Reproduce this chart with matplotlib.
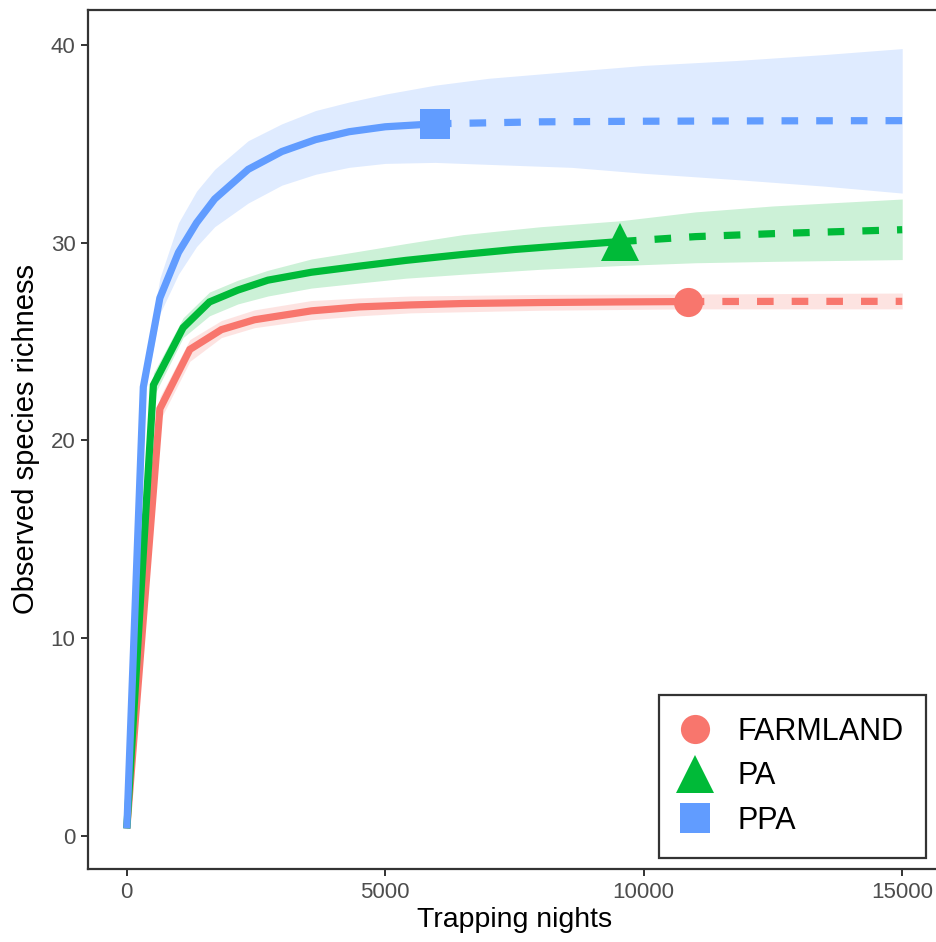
import numpy as np
import matplotlib
matplotlib.use("Agg")
from matplotlib import pyplot as plt
from matplotlib.lines import Line2D

plt.rcParams['font.family'] = ['Liberation Sans', 'DejaVu Sans']

groups = ['FARMLAND', 'PA', 'PPA']
colors = ['#F8766D', '#00BA38', '#619CFF']
shapes = ['o', '^', 's']

# observed (interpolated) part of each curve
farm_obs_x = [1, 640, 1220, 1830, 2470, 3570, 4500, 5500, 6500, 8000, 9500, 10850]
farm_obs_y = [0.4, 21.6, 24.6, 25.6, 26.1, 26.55, 26.75, 26.85, 26.92, 26.97, 27.0, 27.02]
pa_obs_x = [1, 515, 1090, 1600, 2150, 2730, 3570, 4470, 5400, 6500, 7500, 8500, 9540]
pa_obs_y = [0.4, 22.8, 25.7, 27.0, 27.6, 28.1, 28.5, 28.8, 29.1, 29.4, 29.65, 29.85, 30.05]
ppa_obs_x = [1, 320, 640, 1000, 1350, 1700, 2350, 3000, 3650, 4300, 5000, 5960]
ppa_obs_y = [0.4, 22.7, 27.2, 29.5, 31.0, 32.2, 33.7, 34.6, 35.2, 35.6, 35.85, 36.0]

# extrapolated part
farm_ext_x = [10850, 13000, 15000]
farm_ext_y = [27.02, 27.03, 27.03]
pa_ext_x = [9540, 11000, 12500, 15000]
pa_ext_y = [30.05, 30.3, 30.45, 30.65]
ppa_ext_x = [5960, 8000, 10000, 12500, 15000]
ppa_ext_y = [36.0, 36.1, 36.13, 36.15, 36.16]

# confidence bands
farm_ci_x = [1, 640, 1220, 1830, 2470, 3570, 4500, 5500, 8000, 10850, 15000]
farm_lo = [0.35, 21.0, 24.0, 25.2, 25.7, 26.1, 26.3, 26.45, 26.58, 26.65, 26.65]
farm_hi = [0.4, 22.2, 25.1, 26.06, 26.6, 27.07, 27.2, 27.3, 27.38, 27.4, 27.45]
pa_ci_x = [1, 515, 1090, 1600, 2150, 2730, 3570, 4470, 5400, 6500, 8000, 9540, 11000, 12500, 15000]
pa_lo = [0.35, 22.2, 25.2, 26.3, 26.9, 27.3, 27.7, 27.95, 28.2, 28.4, 28.65, 28.84, 28.98, 29.05, 29.14]
pa_hi = [0.4, 23.4, 26.2, 27.5, 28.1, 28.6, 29.17, 29.55, 29.95, 30.4, 30.8, 31.1, 31.55, 31.85, 32.2]
ppa_ci_x = [1, 320, 640, 1000, 1350, 1700, 2350, 3000, 3650, 4300, 5000, 5960, 7000, 8600, 10000, 11800, 13500, 15000]
ppa_lo = [0.35, 22.0, 26.4, 28.4, 29.8, 30.8, 32.0, 32.9, 33.45, 33.8, 34.0, 34.05, 33.95, 33.8, 33.5, 33.18, 32.85, 32.5]
ppa_hi = [0.4, 23.3, 28.2, 31.0, 32.6, 33.7, 35.15, 36.0, 36.67, 37.1, 37.5, 37.95, 38.3, 38.65, 38.95, 39.2, 39.5, 39.8]

obs = [(farm_obs_x, farm_obs_y), (pa_obs_x, pa_obs_y), (ppa_obs_x, ppa_obs_y)]
ext = [(farm_ext_x, farm_ext_y), (pa_ext_x, pa_ext_y), (ppa_ext_x, ppa_ext_y)]
ci = [(farm_ci_x, farm_lo, farm_hi), (pa_ci_x, pa_lo, pa_hi), (ppa_ci_x, ppa_lo, ppa_hi)]
marker_sizes = [21, 28, 22]

fig = plt.figure(figsize=(9.37, 9.42), dpi=100)
ax = fig.add_axes([88 / 937, 1 - 869 / 942, (941 - 88) / 937, (869 - 10) / 942])

for i in range(3):
    cx, lo, hi = ci[i]
    ax.fill_between(cx, lo, hi, color=colors[i], alpha=0.2, linewidth=0)
for i in range(3):
    ox, oy = obs[i]
    ex, ey = ext[i]
    ax.plot(ox, oy, color=colors[i], lw=5.2, solid_capstyle='butt', solid_joinstyle='miter')
    ax.plot(ex, ey, color=colors[i], lw=5.2, dashes=(2.3, 2.5), dash_capstyle='butt')
    ax.plot(ox[-1], oy[-1], marker=shapes[i], color=colors[i], ms=marker_sizes[i], mew=0, ls='none')

ax.set_xlim(-750, 15750)
ax.set_ylim(-1.65, 41.75)
ax.set_xticks([0, 5000, 10000, 15000])
ax.set_yticks([0, 10, 20, 30, 40])
for s in ax.spines.values():
    s.set_color('#333333')
    s.set_linewidth(1.6)
ax.tick_params(length=5, width=1.4, color='#333333', labelcolor='#4D4D4D', labelsize=16, pad=4)
ax.set_xlabel('Trapping nights', fontsize=20.5, color='black', labelpad=3)
ax.set_ylabel('Observed species richness', fontsize=21, color='black', labelpad=8)

handles = [Line2D([], [], marker=shapes[i], color=colors[i], ls='none', mew=0,
                  ms=marker_sizes[i]) for i in range(3)]
leg = fig.legend(handles, groups, loc='upper left', bbox_to_anchor=(659 / 937, 1 - 695 / 942),
                 fontsize=22, frameon=True, fancybox=False, framealpha=1,
                 edgecolor='#333333', borderpad=0.72, labelspacing=0.47, handletextpad=0.95,
                 handlelength=0.9, borderaxespad=0)
leg.get_frame().set_linewidth(1.6)

fig.savefig('out.png', dpi=100)
